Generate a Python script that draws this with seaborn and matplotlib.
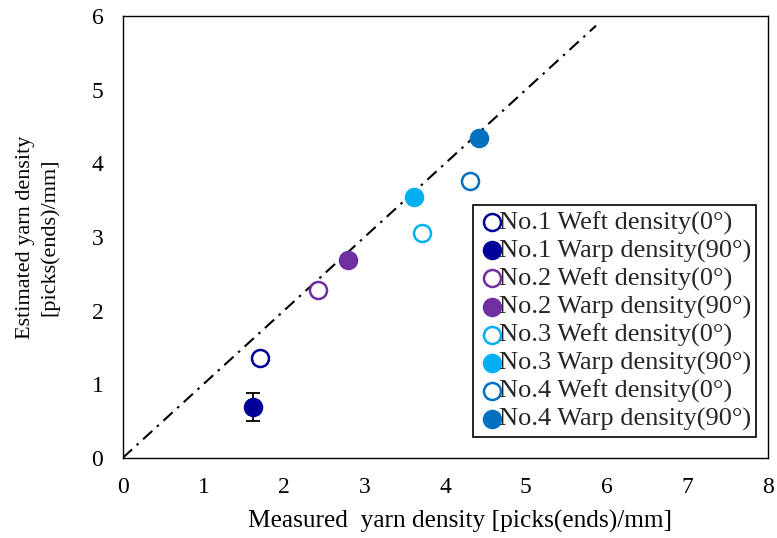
import matplotlib
matplotlib.use("Agg")
import matplotlib.pyplot as plt
import seaborn as sns
import pandas as pd
import numpy as np

labels = ["No.1 Weft density(0°)", "No.1 Warp density(90°)",
          "No.2 Weft density(0°)", "No.2 Warp density(90°)",
          "No.3 Weft density(0°)", "No.3 Warp density(90°)",
          "No.4 Weft density(0°)", "No.4 Warp density(90°)"]
measured = [1.70, 1.61, 2.42, 2.80, 3.71, 3.61, 4.31, 4.42]
estimated = [1.35, 0.69, 2.28, 2.69, 3.05, 3.54, 3.76, 4.34]
errors = [0.0, 0.19, 0.0, 0.0, 0.0, 0.0, 0.0, 0.0]
colors = ["#000099", "#000099", "#7030A0", "#7030A0",
          "#00B0F0", "#00B0F0", "#0070C0", "#0070C0"]
filled = [False, True, False, True, False, True, False, True]
ref_line = [0.0, 5.87]

sns.set_theme(style="white")
plt.rcParams['font.family'] = ['Liberation Serif', 'DejaVu Serif']

fig = plt.figure(figsize=(7.77, 5.38), dpi=100)
ax = fig.add_axes([0.158, 0.149, 0.830, 0.821])

df = pd.DataFrame({"x": measured, "y": estimated, "label": labels})

for x, y, e, c in zip(measured, estimated, errors, colors):
    if e > 0:
        ax.errorbar(x, y, yerr=e, fmt='none', ecolor='black', elinewidth=1.3,
                    capsize=5, capthick=1.3, zorder=2)

ax.plot(ref_line, ref_line, color='black', linestyle=(0, (6, 3, 1.2, 3)),
        linewidth=1.5, zorder=1)

for i, lab in enumerate(labels):
    sub = df[df["label"] == lab]
    fc = colors[i] if filled[i] else 'white'
    sns.scatterplot(data=sub, x="x", y="y", ax=ax, s=150, marker='o',
                    facecolor=fc, edgecolor=colors[i], linewidth=1.8,
                    label=lab, zorder=3)

ax.set_xlim(0, 8)
ax.set_ylim(0, 6)
ax.set_xticks(range(0, 9))
ax.set_yticks(range(0, 7))
ax.tick_params(axis='both', labelsize=17, direction='in', length=5, width=0.8,
               pad=14, colors='black')
for s in ax.spines.values():
    s.set_color('black')
    s.set_linewidth(1.0)

ax.set_xlabel("Measured  yarn density [picks(ends)/mm]", fontsize=18.3, color='black')
ax.xaxis.set_label_coords(0.5225, -0.118)
ax.set_ylabel("Estimated yarn density\n[picks(ends)/mm]", fontsize=16, color='black',
              linespacing=1.3, labelpad=23)

leg = ax.legend(loc='lower right', bbox_to_anchor=(0.982, 0.048), fontsize=19,
                frameon=True, fancybox=False, framealpha=1, edgecolor='black',
                handletextpad=-0.25, borderpad=0.2, labelspacing=0.16,
                handlelength=1.0, borderaxespad=0)
leg.get_frame().set_linewidth(1.2)

fig.savefig("out.png", dpi=100)
